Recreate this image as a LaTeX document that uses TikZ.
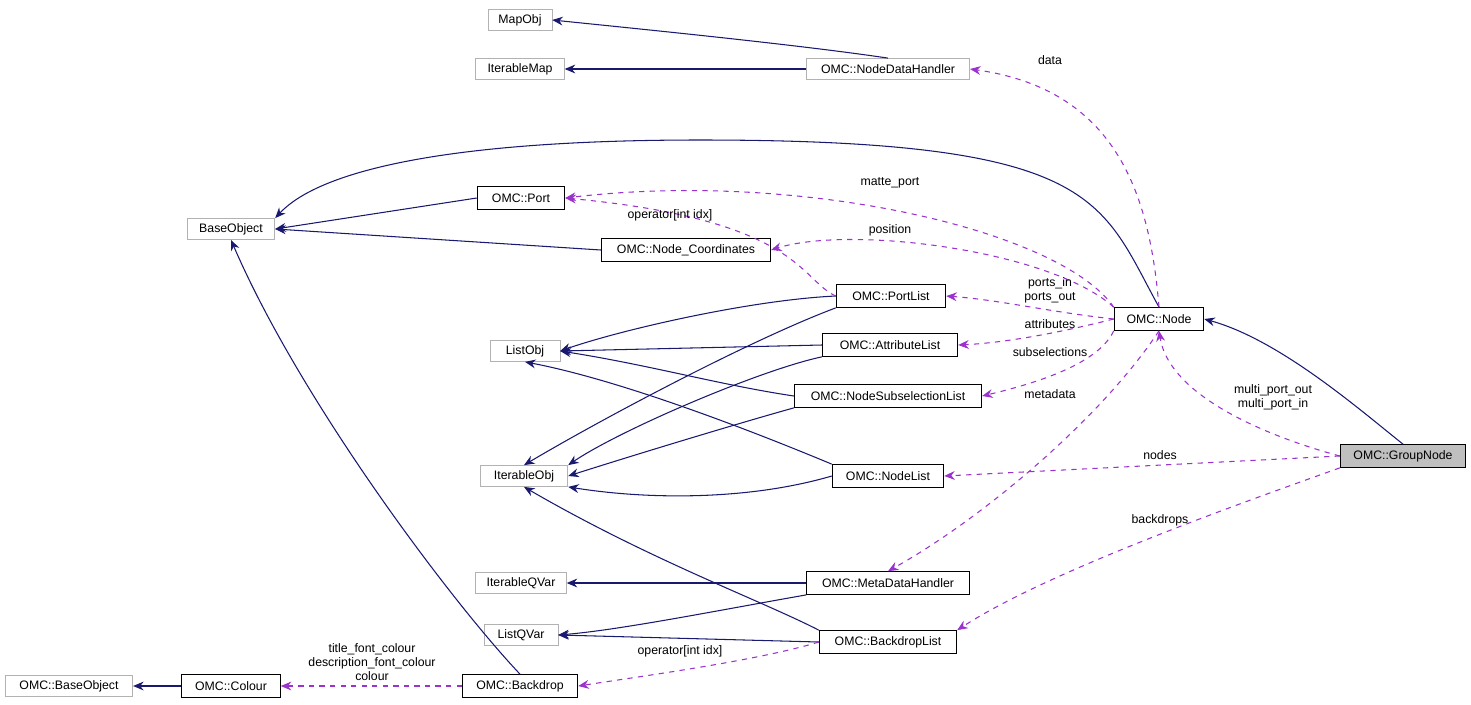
\documentclass[tikz,border=0pt]{standalone}
\usepackage{fontspec}
\setmainfont{Liberation Sans}
\usetikzlibrary{arrows.meta}
\begin{document}
\begin{tikzpicture}[x=0.02cm,y=-0.02cm,
 every node/.style={font=\fontsize{7}{8}\selectfont},
 cls/.style={draw=black,fill=white,minimum height=13pt,inner sep=1pt,line width=0.5pt},
 ext/.style={draw=black!30,fill=white,minimum height=12pt,inner sep=1pt},
 inh/.style={draw={rgb,255:red,25;green,25;blue,112},line width=0.6pt,-{Stealth[length=6pt,width=5pt]}},
 mem/.style={draw={rgb,255:red,154;green,50;blue,205},dashed,line width=0.6pt,-{Stealth[length=6pt,width=5pt]}},
 lbl/.style={align=center,inner sep=1pt}]
\useasboundingbox (0,0) rectangle (1471,704);
\node[ext,minimum width=64*0.567pt] (map) at (520,20) {MapObj};
\node[ext,minimum width=89*0.567pt] (imap) at (520,69) {IterableMap};
\node[ext,minimum width=164*0.567pt] (ndh) at (888,69) {OMC::NodeDataHandler};
\node[ext,minimum width=88*0.567pt] (bo) at (231,229) {BaseObject};
\node[cls,minimum width=88*0.567pt] (port) at (521,198) {OMC::Port};
\node[cls,minimum width=170*0.567pt] (nc) at (686,250) {OMC::Node\_Coordinates};
\node[cls,minimum width=110*0.567pt] (pl) at (891,296) {OMC::PortList};
\node[ext,minimum width=70*0.567pt] (lo) at (525,351) {ListObj};
\node[cls,minimum width=136*0.567pt] (al) at (890,345) {OMC::AttributeList};
\node[cls,minimum width=90*0.567pt] (node) at (1159,319) {OMC::Node};
\node[cls,minimum width=188*0.567pt] (nsl) at (888,396) {OMC::NodeSubselectionList};
\node[ext,minimum width=88*0.567pt] (io) at (524,476) {IterableObj};
\node[cls,minimum width=112*0.567pt] (nl) at (888,476) {OMC::NodeList};
\node[cls,fill=black!25,minimum width=126*0.567pt] (gn) at (1403,456) {OMC::GroupNode};
\node[ext,minimum width=91*0.567pt] (iq) at (521,583) {IterableQVar};
\node[cls,minimum width=163*0.567pt] (mdh) at (888,583) {OMC::MetaDataHandler};
\node[ext,minimum width=74*0.567pt] (lq) at (521,635) {ListQVar};
\node[cls,minimum width=138*0.567pt] (bl) at (888,642) {OMC::BackdropList};
\node[ext,minimum width=128*0.567pt] (obo) at (69,686) {OMC::BaseObject};
\node[cls,minimum width=99*0.567pt] (col) at (231,686) {OMC::Colour};
\node[cls,minimum width=116*0.567pt] (bd) at (520,686) {OMC::Backdrop};
% inheritance
\draw[inh] (ndh.north) .. controls (800,45) and (650,30) .. (map.east);
\draw[inh] (ndh) -- (imap);
\draw[inh] (port.west) -- (bo.east);
\draw[inh] (nc.west) -- (bo.east);
\draw[inh] (node.north) .. controls (1100,200) and (1100,140) .. (700,140) .. controls (450,140) and (320,170) .. (bo.north east);
\draw[inh] (bd.north) .. controls (450,600) and (300,400) .. (bo.south);
\draw[inh] (pl.west) .. controls (750,300) and (620,330) .. (lo.east);
\draw[inh] (pl.south west) .. controls (750,340) and (600,420) .. (io.north);
\draw[inh] (al.west) -- (lo.east);
\draw[inh] (al.south west) .. controls (760,370) and (620,430) .. (io.north east);
\draw[inh] (nsl.west) .. controls (720,385) and (650,365) .. (lo.east);
\draw[inh] (nsl.south west) .. controls (750,420) and (650,450) .. (io.east);
\draw[inh] (nl.north west) .. controls (750,430) and (620,380) .. (lo.south);
\draw[inh] (nl.west) .. controls (750,500) and (650,500) .. (io.south east);
\draw[inh] (mdh.west) -- (iq.east);
\draw[inh] (mdh.south west) .. controls (720,610) and (620,630) .. (lq.east);
\draw[inh] (bl.west) -- (lq.east);
\draw[inh] (bl.north west) .. controls (760,600) and (650,560) .. (io.south);
\draw[inh] (col.west) -- (obo.east);
\draw[inh] (gn.north) .. controls (1360,410) and (1280,340) .. (node.east);
% members
\draw[mem] (node.north) .. controls (1150,200) and (1120,90) .. (ndh.east);
\node[lbl] at (1050,60) {data};
\draw[mem] (node.north west) .. controls (1060,230) and (800,170) .. (port.east);
\node[lbl] at (890,183) {matte\_port};
\draw[mem] (node.north west) .. controls (1050,250) and (850,225) .. (nc.east);
\node[lbl] at (890,230) {position};
\draw[mem] (pl.west) .. controls (800,280) and (800,220) .. (port.east);
\node[lbl] at (670,215) {operator[int idx]};
\draw[mem] (node.west) .. controls (1050,312) and (1000,300) .. (pl.east);
\node[lbl] at (1050,290) {ports\_in\\ports\_out};
\draw[mem] (node.west) .. controls (1050,335) and (1000,343) .. (al.east);
\node[lbl] at (1050,324) {attributes};
\draw[mem] (node.south west) .. controls (1100,360) and (1050,380) .. (nsl.east);
\node[lbl] at (1050,352) {subselections};
\draw[mem] (node.south) .. controls (1100,420) and (980,520) .. (mdh.north);
\node[lbl] at (1050,394) {metadata};
\draw[mem] (gn.west) .. controls (1280,440) and (1170,400) .. (node.south);
\node[lbl] at (1273,397) {multi\_port\_out\\multi\_port\_in};
\draw[mem] (gn.west) -- (nl.east);
\node[lbl] at (1160,455) {nodes};
\draw[mem] (gn.south west) .. controls (1250,500) and (1050,570) .. (bl.north east);
\node[lbl] at (1160,520) {backdrops};
\draw[mem] (bl.west) .. controls (760,660) and (650,675) .. (bd.east);
\node[lbl] at (680,651) {operator[int idx]};
\draw[mem] (bd.west) -- (col.east);
\node[lbl] at (372,662) {title\_font\_colour\\description\_font\_colour\\colour};
\end{tikzpicture}
\end{document}
